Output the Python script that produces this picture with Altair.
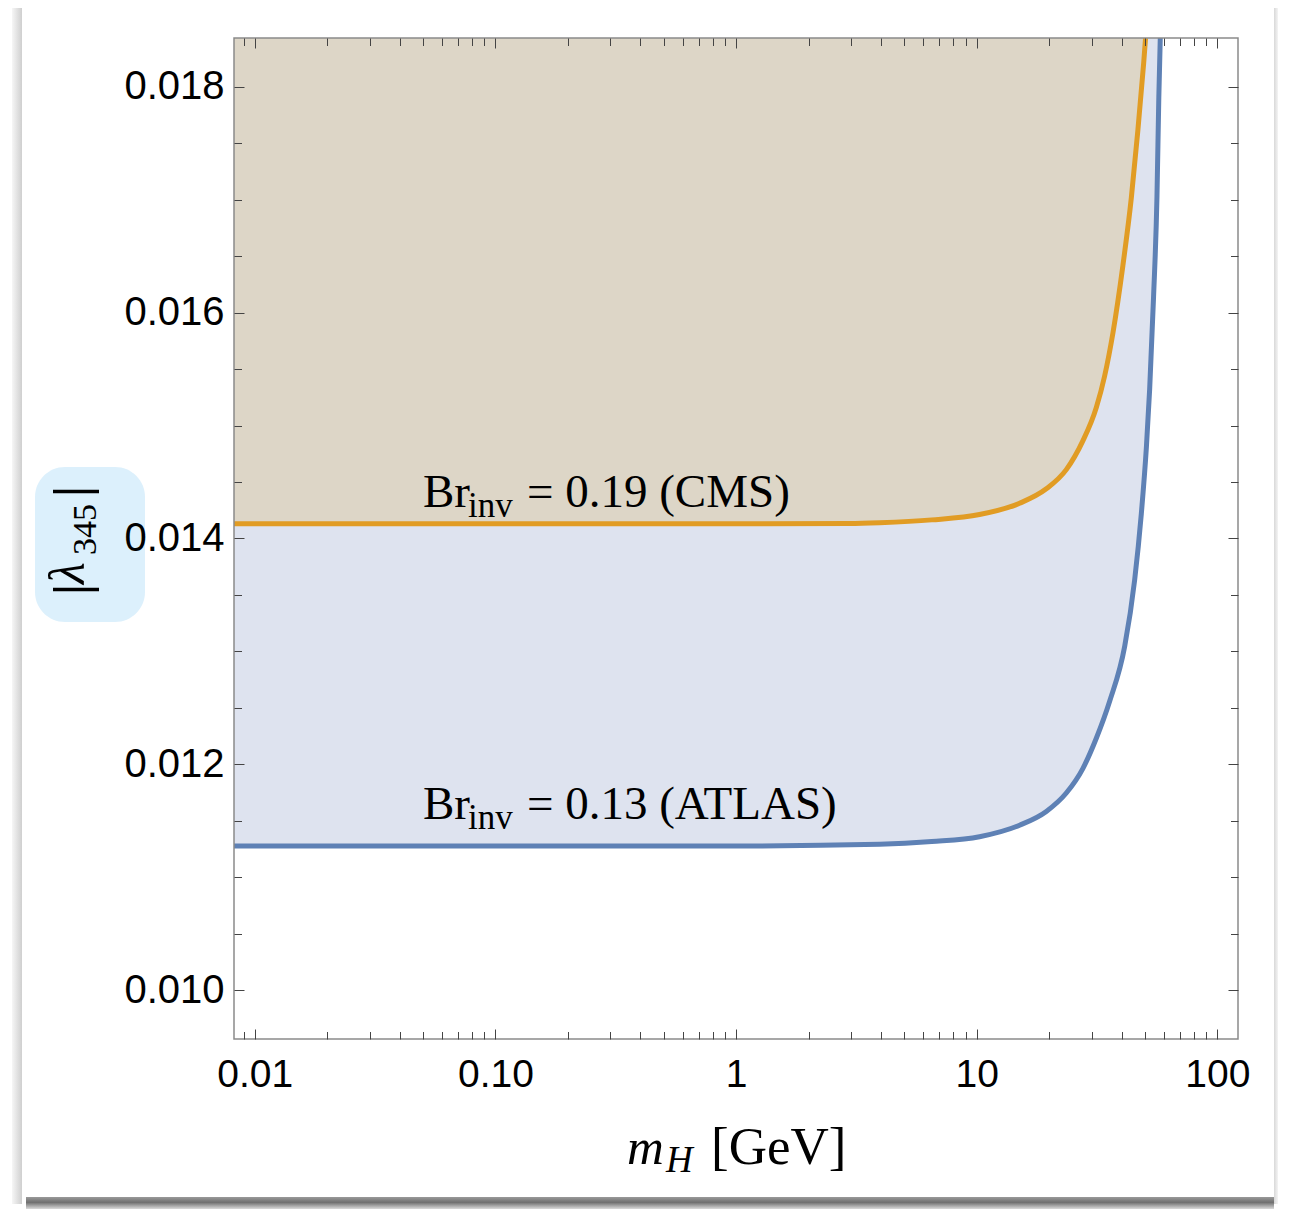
import altair as alt
import pandas as pd

# ---------------- data ----------------
x_domain = [0.0082, 121.8]
y_domain = [0.009566, 0.018434]
y_top = 0.018434

x_major = [0.01, 0.1, 1, 10, 100]
x_major_labels = ["0.01", "0.10", "1", "10", "100"]
x_minor = [0.009, 0.02, 0.03, 0.04, 0.05, 0.06, 0.07, 0.08, 0.09,
           0.2, 0.3, 0.4, 0.5, 0.6, 0.7, 0.8, 0.9,
           2, 3, 4, 5, 6, 7, 8, 9,
           20, 30, 40, 50, 60, 70, 80, 90]
y_major = [0.010, 0.012, 0.014, 0.016, 0.018]
y_minor = [0.0105, 0.011, 0.0115, 0.0125, 0.013, 0.0135,
           0.0145, 0.015, 0.0155, 0.0165, 0.017, 0.0175]

cms_m = [0.0082, 0.1, 1, 2.96, 3.95, 6.5, 10.27, 15.07, 19.46, 23.56, 27.54,
         31.4, 34.0, 36.8, 40.5, 43.9, 46.7, 49.4, 50.3]
cms_lam = [0.01413, 0.01413, 0.01413, 0.014133, 0.01414, 0.014165, 0.014212,
           0.014312, 0.014440, 0.014610, 0.014860, 0.015160, 0.015440,
           0.015820, 0.016420, 0.017020, 0.017610, 0.018213, 0.018434]

atlas_m = [0.0082, 0.1, 1, 3.95, 6.5, 10.27, 15.07, 19.46, 23.56, 27.6, 31.4,
           35.7, 41.2, 45.3, 48.3, 50.7, 52.3, 54.3, 56.1, 57.1, 57.9]
atlas_lam = [0.011276, 0.011276, 0.011276, 0.011291, 0.011315, 0.011358,
             0.011460, 0.011582, 0.011745, 0.011962, 0.012230, 0.012560,
             0.013045, 0.013630, 0.014220, 0.014810, 0.015320, 0.016140,
             0.017030, 0.017910, 0.018434]

label_m = [0.05, 0.05]
label_lam = [0.014282, 0.011519]
label_main = ["Br", "Br"]
label_sub = ["inv", "inv"]
label_rest = ["= 0.19 (CMS)", "= 0.13 (ATLAS)"]

# ---------------- styling ----------------
W, H = 1004, 1001
BLUE = "#5E81B5"
ORANGE = "#E19C24"
BLUE_FILL = "#dee3ef"
TAN_FILL = "#ddd6c7"
FRAME = "#8a8a8a"
TICK = "#444444"
SANS = "Liberation Sans"
SERIF = "Liberation Serif"

cms = pd.DataFrame({"m": cms_m, "lam": cms_lam, "top": [y_top] * len(cms_m)})
atlas = pd.DataFrame({"m": atlas_m, "lam": atlas_lam, "top": [y_top] * len(atlas_m)})
labels = pd.DataFrame({"m": label_m, "lam": label_lam, "main": label_main,
                       "sub": label_sub, "rest": label_rest})

xs = alt.Scale(type="log", domain=x_domain, nice=False)
ys = alt.Scale(domain=y_domain, nice=False, zero=False)

x_label_expr = "[" + ",".join("'%s'" % s for s in x_major_labels) + "][indexof([" + \
    ",".join(repr(v) for v in x_major) + "], datum.value)]"


def ax(orient, values, size, labels=False, fmt=None, expr=None, pad=10, fs=39):
    kw = dict(orient=orient, values=values, tickSize=size, offset=-size,
              domain=False, grid=False, labels=labels, title=None,
              tickColor=TICK, tickWidth=1, zindex=1)
    if labels:
        kw.update(labelFont=SANS, labelFontSize=fs, labelColor="black",
                  labelPadding=pad, labelOverlap=False, labelFlush=False)
        if fmt:
            kw["format"] = fmt
        if expr:
            kw["labelExpr"] = expr
    return alt.Axis(**kw)


blue_area = alt.Chart(atlas).mark_area(color=BLUE_FILL, interpolate="monotone", clip=True).encode(
    x=alt.X("m:Q", scale=xs, axis=ax("bottom", x_major, 10, True, expr=x_label_expr, pad=16, fs=39)),
    y=alt.Y("lam:Q", scale=ys, axis=ax("left", y_major, 10, True, fmt=".3f", pad=10, fs=40)),
    y2="top:Q",
)
tan_area = alt.Chart(cms).mark_area(color=TAN_FILL, interpolate="monotone", clip=True).encode(
    x=alt.X("m:Q", scale=xs, axis=ax("bottom", x_minor, 7.5)),
    y=alt.Y("lam:Q", scale=ys, axis=ax("left", y_minor, 7.5)),
    y2="top:Q",
)
blue_line = alt.Chart(atlas).mark_line(color=BLUE, strokeWidth=5, interpolate="monotone", clip=True).encode(
    x=alt.X("m:Q", scale=xs, axis=ax("top", x_major, 10)),
    y=alt.Y("lam:Q", scale=ys, axis=ax("right", y_major, 10)),
)
orange_line = alt.Chart(cms).mark_line(color=ORANGE, strokeWidth=5, interpolate="monotone", clip=True).encode(
    x=alt.X("m:Q", scale=xs, axis=ax("top", x_minor, 7.5)),
    y=alt.Y("lam:Q", scale=ys, axis=ax("right", y_minor, 7.5)),
)

one = pd.DataFrame({"k": [0]})

frame = alt.Chart(one).mark_rect(
    fill="white", fillOpacity=0, stroke=FRAME, strokeWidth=1.5
).encode(x=alt.value(0), x2=alt.value(W), y=alt.value(0), y2=alt.value(H))

lab_main = alt.Chart(labels).mark_text(font=SERIF, fontSize=47, align="left",
                                       baseline="alphabetic", color="black").encode(
    x=alt.X("m:Q", scale=xs, axis=None), y=alt.Y("lam:Q", scale=ys, axis=None), text="main:N")
lab_sub = alt.Chart(labels).mark_text(font=SERIF, fontSize=35, align="left",
                                      baseline="alphabetic", color="black", dx=45, dy=10).encode(
    x=alt.X("m:Q", scale=xs, axis=None), y=alt.Y("lam:Q", scale=ys, axis=None), text="sub:N")
lab_rest = alt.Chart(labels).mark_text(font=SERIF, fontSize=47, align="left",
                                       baseline="alphabetic", color="black", dx=104).encode(
    x=alt.X("m:Q", scale=xs, axis=None), y=alt.Y("lam:Q", scale=ys, axis=None), text="rest:N")


def ptext(txt, x, y, size, style="normal", angle=0, weight="normal"):
    kw = dict(font=SERIF, fontSize=size, fontStyle=style, fontWeight=weight,
              align="left", baseline="alphabetic", color="black")
    if angle:
        kw["angle"] = angle
    return alt.Chart(pd.DataFrame({"t": [txt]})).mark_text(**kw).encode(
        x=alt.value(x), y=alt.value(y), text="t:N")


# screenshot card edges / shadow (decoration around the figure)
shadow = alt.Chart(one).mark_rect(
    color=alt.Gradient(gradient="linear", x1=0, y1=0, x2=0, y2=1,
                       stops=[alt.GradientStop(offset=0, color="#9a9a9a"),
                              alt.GradientStop(offset=0.45, color="#707070"),
                              alt.GradientStop(offset=1, color="#dadada")])
).encode(x=alt.value(-208), x2=alt.value(1040), y=alt.value(1159), y2=alt.value(1171))
left_edge = alt.Chart(one).mark_rect(
    color=alt.Gradient(gradient="linear", x1=0, y1=0, x2=1, y2=0,
                       stops=[alt.GradientStop(offset=0, color="#f6f6f6"),
                              alt.GradientStop(offset=1, color="#cfcfcf")])
).encode(x=alt.value(-222), x2=alt.value(-212), y=alt.value(-30), y2=alt.value(1166))
right_edge = alt.Chart(one).mark_rect(
    color=alt.Gradient(gradient="linear", x1=0, y1=0, x2=1, y2=0,
                       stops=[alt.GradientStop(offset=0, color="#d8d8d8"),
                              alt.GradientStop(offset=1, color="#f4f4f4")])
).encode(x=alt.value(1040), x2=alt.value(1044), y=alt.value(-30), y2=alt.value(1166))

# y-axis title on a light-blue rounded highlight
ybox = alt.Chart(one).mark_rect(
    fill="#dcf0fc", cornerRadius=30
).encode(x=alt.value(-199), x2=alt.value(-89), y=alt.value(429), y2=alt.value(584))
yt1 = ptext("|", -146, 557, 50, angle=270, weight="bold")
yt2 = ptext("λ", -150, 546, 50, style="italic", angle=270)
yt3 = ptext("345", -138, 517, 34, angle=270)
yt4 = ptext("|", -146, 459, 50, angle=270, weight="bold")

# x-axis title
xt1 = ptext("m", 393, 1126, 51, style="italic")
xt2 = ptext("H", 432, 1134, 37, style="italic")
xt3 = ptext("[GeV]", 477, 1126, 53)

chart = alt.layer(
    shadow, left_edge, right_edge,
    blue_area, tan_area, blue_line, orange_line, frame,
    lab_main, lab_sub, lab_rest,
    ybox, yt1, yt2, yt3, yt4, xt1, xt2, xt3,
).resolve_axis(x="independent", y="independent").properties(
    width=W, height=H,
    autosize=alt.AutoSizeParams(type="none"),
    padding={"left": 226, "top": 30, "right": 40, "bottom": 170},
    background="white",
).configure_view(stroke=None)

chart.save("out.html", embed_options={"renderer": "svg", "actions": False})
